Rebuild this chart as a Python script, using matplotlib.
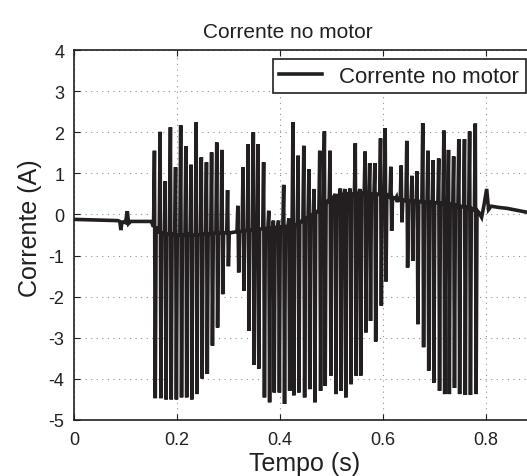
import matplotlib
matplotlib.use("Agg")
import matplotlib.pyplot as plt
import numpy as np

plt.rcParams["font.family"] = ["Liberation Sans", "DejaVu Sans"]
plt.rcParams["axes.unicode_minus"] = False

ink = "#231f20"

## Quiet part before the motor starts switching
pre_t = [0.0, 0.03, 0.06, 0.085, 0.089, 0.091, 0.093, 0.096, 0.100, 0.1035, 0.106, 0.11, 0.13, 0.15]
pre_i = [-0.12, -0.13, -0.14, -0.15, -0.17, -0.38, -0.20, -0.18, -0.20, 0.08, -0.22, -0.17, -0.17, -0.17]

## Switching spikes: time, peak, trough and the level between spikes
spike_t = [0.157, 0.168, 0.178, 0.188, 0.198, 0.208, 0.218, 0.228, 0.238, 0.248, 0.258, 0.268, 0.278, 0.288, 0.299,
           0.319, 0.329, 0.339, 0.349, 0.358, 0.369, 0.379, 0.388, 0.398, 0.408, 0.418, 0.426, 0.436, 0.447, 0.457,
           0.467, 0.478, 0.487, 0.498,
           0.508, 0.518, 0.527, 0.537, 0.547, 0.556, 0.566, 0.575, 0.585, 0.596, 0.605, 0.616,
           0.627,
           0.636, 0.647, 0.657, 0.667, 0.678, 0.688, 0.698, 0.709, 0.719, 0.728, 0.738, 0.748, 0.759, 0.769, 0.780]
spike_hi = [1.55, 2.01, 0.81, 2.12, 1.15, 2.17, 1.66, 1.21, 2.24, 1.39, 1.27, 1.51, 1.75, 1.57, 0.59,
            0.21, 1.15, 1.71, 2.00, 1.71, 1.27, 0.09, -0.15, -0.15, 0.72, -0.10, 2.24, 1.43, 1.67, 1.10,
            0.62, 1.55, 2.02, 1.55,
            0.50, 0.63, 0.62, 0.63, 1.73, 0.62, 1.53, 1.25, 1.25, 1.85, 2.10, 1.16,
            0.42,
            1.19, 1.79, 0.94, 1.05, 2.22, 1.55, 1.32, 1.36, 2.04, 1.57, 1.41, 1.83, 1.83, 2.02, 2.21]
spike_lo = [-4.47, -4.47, -4.50, -4.50, -4.50, -4.45, -4.45, -4.50, -4.37, -3.99, -3.88, -3.19, -2.75, -1.94, -1.26,
            -1.41, -1.86, -2.83, -3.66, -3.75, -4.45, -4.57, -4.33, -4.33, -4.61, -4.29, -4.40, -4.33, -4.45, -4.25,
            -4.57, -4.29, -4.17, -3.92,
            -4.37, -4.29, -4.45, -4.13, -3.92, -3.92, -2.87, -2.59, -3.09, -2.22, -1.63, -0.40,
            0.30,
            -0.19, -1.29, -1.13, -2.67, -3.23, -3.80, -4.09, -4.29, -4.37, -4.37, -4.22, -4.37, -4.39, -4.39, -4.37]
spike_base = [-0.30, -0.45, -0.48, -0.48, -0.50, -0.50, -0.48, -0.50, -0.50, -0.48, -0.48, -0.47, -0.45, -0.45, -0.45,
              -0.42, -0.40, -0.38, -0.37, -0.36, -0.35, -0.33, -0.32, -0.30, -0.30, -0.28, -0.27, -0.22, -0.12, -0.05,
              0.02, 0.12, 0.25, 0.38,
              0.45, 0.48, 0.50, 0.50, 0.50, 0.52, 0.50, 0.50, 0.50, 0.48, 0.48, 0.42,
              0.38,
              0.35, 0.33, 0.33, 0.32, 0.30, 0.30, 0.29, 0.28, 0.27, 0.25, 0.23, 0.20, 0.18, 0.15, 0.10]

## Tail after switching stops
post_t = [0.786, 0.7915, 0.796, 0.8013, 0.805, 0.81, 0.825, 0.84, 0.86, 0.88, 0.90]
post_i = [0.05, -0.07, 0.22, 0.62, 0.12, 0.20, 0.17, 0.15, 0.10, 0.05, 0.03]

## Build the trace vertex by vertex
t = list(pre_t)
i = list(pre_i)
for ts, hi, lo, b in zip(spike_t, spike_hi, spike_lo, spike_base):
	t += [ts - 0.0025, ts - 0.0008, ts + 0.0008, ts + 0.0025]
	i += [b, hi, lo, b]
t += post_t
i += post_i

W, H = 527, 477
fig = plt.figure(figsize=(W/100, H/100), dpi=100)
ax = fig.add_axes([74/W, 56/H, 515/W, 370/H])

ax.plot(t, i, color=ink, linewidth=2.6, label="Corrente no motor", solid_joinstyle="miter")

ax.set_xlim(0, 1)
ax.set_ylim(-5, 4)
ax.set_xticks([0, 0.2, 0.4, 0.6, 0.8])
ax.set_xticklabels(["0", "0.2", "0.4", "0.6", "0.8"])
ax.set_yticks(range(-5, 5))
ax.grid(True, color="#909090", linestyle=(0, (1, 4)), linewidth=0.8)
ax.tick_params(direction="in", top=True, right=True, length=4, width=0.8,
               labelsize=13, colors=ink)
ax.tick_params(axis="x", pad=8)
ax.tick_params(axis="y", pad=7)
for s in ax.spines.values():
	s.set_linewidth(1.2)
	s.set_color(ink)

## Title and axis labels placed where the original figure has them
fig.text(287.5/W, 1 - 33/H, "Corrente no motor", fontsize=15, color=ink, ha="center", va="center")
fig.text(305/W, 1 - 464/H, "Tempo (s)", fontsize=18, color=ink, ha="center", va="center")
fig.text(30/W, 1 - 228/H, "Corrente (A)", fontsize=18, color=ink, ha="center", va="center", rotation=90)

leg = ax.legend(loc="upper right", bbox_to_anchor=(526/W, 1 - 60/H), bbox_transform=fig.transFigure,
                borderaxespad=0, fontsize=16, frameon=True, fancybox=False, framealpha=1,
                borderpad=0.3, handlelength=1.9, handletextpad=0.8)
leg.get_frame().set_edgecolor(ink)
leg.get_frame().set_linewidth(1.2)
for txt in leg.get_texts():
	txt.set_color(ink)

plt.savefig("out.png", dpi=100)
plt.close()
